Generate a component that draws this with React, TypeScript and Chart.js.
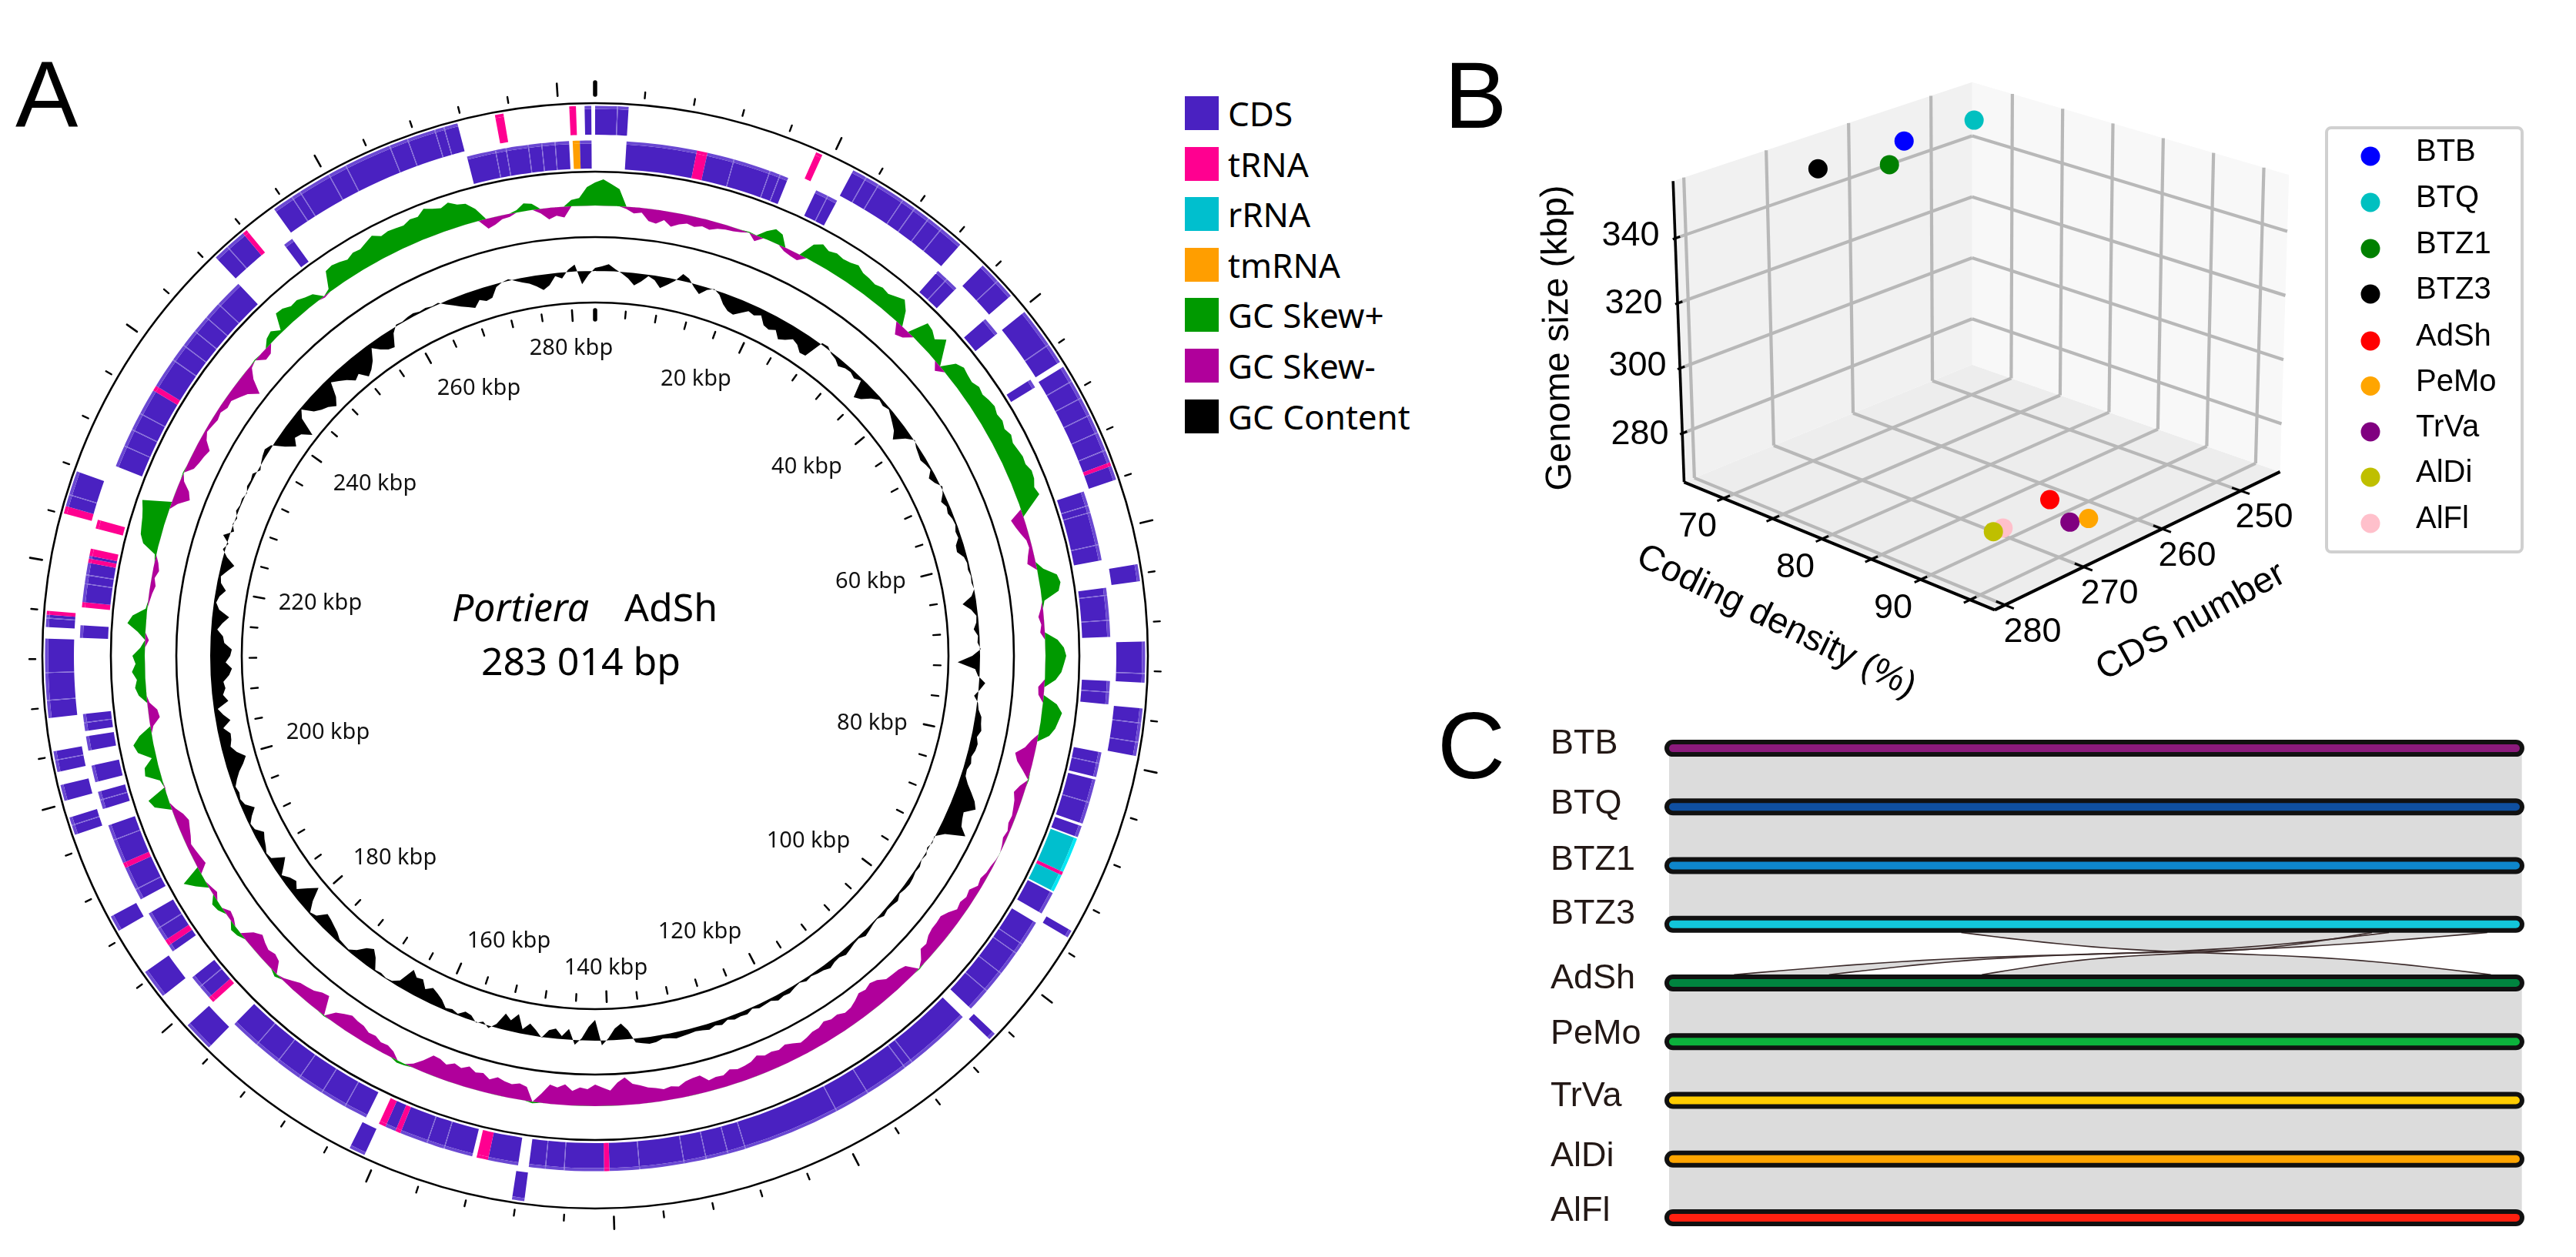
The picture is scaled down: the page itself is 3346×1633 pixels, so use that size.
import React, { useEffect, useRef } from "react";
import { Chart, registerables } from "chart.js";

Chart.register(...registerables);

/* ---------- Panel A: circular map ---------- */
const genomeKbp = 283.014;

// GC skew and GC content, one reading per degree clockwise from 0 kbp
const gcSkew = [
  30, 34, 28, 22, -3, -8, -6, -16, -18, -12,
  -19, -14, -11, -13, -10, -12, -8, -6, -5, -3,
  1, -8, 10, 17, 14, -5, -7, -8, 20, 26,
  22, 25, 23, 24, 27, 22, 21, 19, 22, 20,
  24, 28, 18, -14, -10, 26, 24, 18, 29, 14,
  -9, 18, 23, 21, 20, 24, 22, 25, 27, 24,
  26, 23, 27, 24, 26, 28, 27, 31, 30, 26,
  29, 14, -17, -14, -10, -5, -4, -8, -11, 8,
  24, 27, 23, 3, -3, -7, -4, -6, 16, 24,
  27, 24, 21, 14, -8, -7, 18, 26, 23, 20,
  14, -8, -14, -25, -20, -10, 1, -8, -13, -9,
  -7, -5, -6, -3, -5, -2, 0, -1, -3, -4,
  -7, -5, -12, -10, -13, -11, -18, -23, -22, -22,
  -20, -15, -16, -6, 1, -15, -18, -19, -20, -27,
  -30, -27, -29, -24, -20, -19, -23, -22, -25, -21,
  -21, -18, -16, -20, -23, -20, -22, -21, -25, -20,
  -18, -17, -20, -15, -16, -14, -23, -22, -20, -15,
  -17, -15, -18, -20, -24, -27, -36, -30, -20, -24,
  -28, -22, -24, -19, -27, -22, -25, -12, 2, -18,
  -21, -18, -20, -23, -18, -24, -22, -27, -22, -25,
  -20, -24, -25, -14, -5, 2, 3, -8, -12, -11,
  -15, -14, -18, -19, -21, -17, -12, 1, -24, -22,
  -17, -15, -13, -8, -3, 4, -14, -17, -14, -17,
  -21, -14, 5, 7, -5, -7, 6, 8, -6, -3,
  14, 26, -12, -10, -8, -6, -10, -13, -16, -12,
  -5, 20, 25, -1, 3, 20, 18, 6, 22, 26,
  16, -4, -14, -12, -3, 10, 14, 11, 17, 12,
  16, 6, -5, 10, 24, 18, 2, -2, -4, -7,
  -4, -8, -5, 2, 20, 26, 28, 30, 33, 37,
  -8, -21, -16, -5, 1, -10, -13, -15, -18, -8,
  -3, -5, -7, -5, -9, -8, -14, -20, -32, -14,
  -3, 1, -10, -9, 8, 11, 3, 23, 22, 17,
  18, 14, 11, -2, 4, 25, 27, 25, 22, 26,
  25, 29, 33, 27, 29, 28, 27, 31, 30, 37,
  33, 30, 34, 28, 26, 16, -13, -10, -5, -4,
  3, 10, 8, -6, -15, -11, -14, 8, 10, 24,
];
const gcContent = [
  4, 6, 9, 3, -2, -8, -16, -10, -2, -6,
  -15, -9, -2, 9, 5, -4, -11, -3, 1, -4,
  -14, -20, -22, -16, -10, -12, -8, -18, -20, -16,
  -25, -21, -15, -18, -25, -24, 2, 3, -2, -4,
  -9, -5, -4, -7, -3, -25, -20, -10, -3, -5,
  -2, -6, -10, -14, -22, -8, 1, -3, -5, -7,
  -4, -2, -9, -5, 2, -2, -8, -4, -6, -3,
  -2, -5, -4, -10, -11, -4, -2, -3, -1, -2,
  0, -5, -18, -8, -2, -3, -7, -2, -3, 1,
  -10, -29, -6, -2, 8, 2, -5, 1, 3, 8,
  9, 11, 7, 10, 9, 6, 8, 5, 6, 12,
  20, 28, 33, 20, 22, 25, 35, 10, -1, 1,
  -2, 2, 0, 3, 2, 4, 5, 4, 2, 6,
  4, 3, 5, 1, 2, 4, 6, 2, 3, 5,
  7, 4, 5, 8, 5, 4, 2, 4, 1, 3,
  6, 5, 7, 3, 4, 5, 2, 6, 5, 6,
  3, 7, 5, 8, 6, 5, 6, 7, 8, 6,
  5, 8, 9, 7, 5, -12, -21, -15, -3, 6,
  -27, -18, -3, 6, -14, -4, -13, -10, 1, -8,
  -15, -6, -24, -14, -21, -5, 3, -3, 1, -6,
  -8, -2, -5, -3, -11, -16, -20, -14, -24, -22,
  -29, -8, -2, -1, -3, -2, -15, -23, -18, -8,
  -2, -3, -4, -9, -12, -15, -17, -5, -2, -14,
  -31, -20, -8, -14, -10, -3, -12, -20, -4, -2,
  -6, -9, -13, -4, -2, -8, -16, -6, -3, -5,
  -3, -8, -14, -22, -28, -18, -12, -15, -16, -8,
  -19, -11, -5, -20, -14, -18, -16, -24, -28, -20,
  -26, -28, -18, -16, -8, -14, -22, -8, -3, -6,
  -13, -5, -3, -10, -17, -5, 3, -2, 8, -4,
  1, -2, 3, 1, 2, -1, 3, 2, 4, -3,
  1, 4, 6, 2, -14, -26, -18, -22, -34, -10,
  -2, -16, -22, -26, -33, -24, -6, -12, -18, -26,
  -22, -33, -28, -20, -6, -14, -20, -22, -6, 2,
  1, 3, 4, 2, 3, 1, 2, -4, -9, -14,
  -18, -22, -14, -18, -16, -4, 0, 2, -2, -6,
  -9, -14, -20, -15, -4, -8, 3, 9, -17, -5,
];

// Features on the map: start and end in degrees clockwise from 0 kbp. c=CDS t=tRNA r=rRNA m=tmRNA
const outerKinds = ["c","t","c","c","c","c","t","c","c","c","c","c","c","c","c","c","c","c","c","c","c","c","c","t","t","c","c","t","c","t","t","c"];
const outerStart = [0, 23.7, 28, 44.8, 51.3, 58.3, 69.4, 69.8, 80.4, 88.5, 95.5, 120, 133.4, 187.4, 204.8, 224.6, 231.8, 240, 251, 254.7, 257.8, 263.5, 273, 274.3, 285, 285.8, 316.4, 320.2, 324.3, 349.5, 357.3, 358.9];
const outerEnd = [3.5, 24.4, 41.6, 49.1, 57.7, 69.4, 69.8, 71.3, 82.2, 92.8, 100.5, 120.8, 134.2, 188.7, 206.5, 227.8, 234.9, 241.7, 252.9, 256.4, 260, 271.8, 274.3, 274.7, 285.8, 289.6, 320.2, 320.7, 345.5, 350.4, 358, 359.6];
const outerJoins = [2.3, 29.5, 31, 34, 35.5, 37.3, 39, 47, 55.5, 60, 62, 64, 66, 68, 91.8, 97, 99, 252, 259, 265.3, 268.2, 273.9, 287, 318, 326.5, 327.5, 331, 333, 338, 340, 343, 344];

const innerSpans = [
  [3.5, 11.4], [11.4, 12.6], [12.6, 22], [25.4, 28], [41.7, 44.5], [49.2, 51.3], [57.6, 58.6], [71.4, 79.3], [82.4, 87.9], [92.8, 95.4],
  [100.8, 103.6], [103.9, 109], [109.3, 110.6], [110.8, 114.8], [114.8, 115.2], [115.2, 117.2], [117.4, 120], [121.2, 133.2], [134.5, 178.4], [178.4, 179],
  [179, 187.4], [188.6, 192], [192, 193.3], [193.8, 202.2], [202.2, 202.8], [202.8, 204], [204, 204.8], [206.4, 224.4], [227.8, 228.5], [228.5, 231.4],
  [235, 235.8], [235.8, 236.5], [236.5, 240], [241.8, 245.7], [245.7, 246.3], [246.3, 250.8], [252.7, 254.7], [255.8, 257.7], [259.4, 261], [261.6, 263.5],
  [272, 273.4], [275.4, 276], [276, 280.4], [280.4, 280.9], [280.9, 281.2], [281.2, 282], [284.3, 285.3], [291.6, 301], [301, 301.6], [301.6, 316.2],
  [322.9, 324], [345.6, 357.1], [357.5, 358.3], [358.3, 359.6],
];
const innerKinds = ["c","t","c","c","c","c","c","c","c","c","c","c","c","r","t","r","c","c","c","t","c","c","t","c","t","c","t","c","t","c","c","t","c","c","t","c","c","c","c","c","c","t","c","t","c","t","t","c","t","c","c","c","m","c"];
const innerJoins = [15.6, 19.8, 21, 26.8, 43, 73, 73.8, 77.5, 83.2, 86, 94, 102, 106.5, 124, 125.2, 128, 130.5, 142, 143, 148, 152, 163, 165, 167.5, 170, 175, 183.4, 185.5, 197, 199, 209, 212, 215, 218, 221, 230, 238, 243, 249, 253.7, 262.5, 278, 279, 294, 296, 298, 305, 307, 309, 311, 313, 348.8, 350, 352.5, 354, 355.5];

const ringRadii = [459, 544, 629, 718];
const kbpLabels = [280, 260, 240, 220, 200, 180, 160, 140, 120, 100, 80, 60, 40, 20];
const kbpLabelCentres = [[742, 453], [622, 505], [487, 629], [416, 784], [426, 952], [513, 1115], [661, 1223], [787, 1258], [909, 1211], [1050, 1093], [1133, 940], [1131, 756], [1048, 607], [904, 493]];

const mapLegendNames = ["CDS", "tRNA", "rRNA", "tmRNA", "GC Skew+", "GC Skew-", "GC Content"];
const mapLegendColours = ["#4a21c1", "#ff0090", "#00bfce", "#ff9e00", "#009a00", "#b0009b", "#000000"];

const MAIN: Record<string, string> = { c: "#4a21c1", t: "#ff0090", r: "#00bfce", m: "#ff9e00" };
const BAND: Record<string, string> = { c: "#6a48d2", t: "#ff0090", r: "#00e8f5", m: "#ff9e00" };
const JOIN = "#7f66d8";
const CLEAR = "rgba(0,0,0,0)";

function buildRing(spans: number[][], kinds: string[], joins: number[]) {
  const values: number[] = [];
  const main: string[] = [];
  const band: string[] = [];
  const push = (v: number, a: string, b: string) => {
    if (v > 0) {
      values.push(v);
      main.push(a);
      band.push(b);
    }
  };
  let at = 0;
  spans.forEach(([s, e], i) => {
    push(s - at, CLEAR, CLEAR);
    const k = kinds[i];
    let p = s;
    if (k === "c") {
      joins.filter((j) => j > s && j < e).forEach((j) => {
        push(j - p, MAIN[k], BAND[k]);
        push(0.09, JOIN, JOIN);
        p = j + 0.09;
      });
    }
    push(e - p, MAIN[k], BAND[k]);
    at = e;
  });
  push(360 - at, CLEAR, CLEAR);
  return { values, main, band };
}

/* ---------- Panel B: 3D scatter ---------- */
const genomes3d = ["BTB", "BTQ", "BTZ1", "BTZ3", "AdSh", "PeMo", "TrVa", "AlDi", "AlFl"];
const cdsNumber = [260, 252.1, 265.1, 270.1, 270.8, 270.4, 272, 277.8, 276.7];
const codingDensity = [71.5, 72, 74.2, 71.2, 94.7, 98.3, 97.7, 94.6, 94.7];
const genomeSize = [357.6, 357.6, 357.6, 357.6, 283, 281, 281, 281, 281];
const pointColours = ["#0000ff", "#00c0c0", "#008000", "#000000", "#ff0000", "#ffa500", "#800080", "#bfbf00", "#ffc0cb"];
const cdsTicks = [250, 260, 270, 280];
const densityGrid = [70, 75, 80, 85, 90, 95];
const densityLabels = [70, 80, 90];
const sizeTicks = [280, 300, 320, 340];

const C_MIN = 245, C_MAX = 281.3, D_MIN = 66, D_MAX = 97.5, S_MIN = 265, S_MAX = 357.6;
const BOX = {
  back: [[2561.6, 473.7], [2561.6, 106.8]],
  left: [[2187.5, 626.3], [2173.2, 235.3]],
  right: [[2961.6, 612.9], [2973.2, 227.3]],
  front: [[2591, 792.4], [2588.4, 388]],
};
function project(c: number, d: number, s: number) {
  const u = (c - C_MIN) / (C_MAX - C_MIN);
  const v = (d - D_MIN) / (D_MAX - D_MIN);
  const t = (s - S_MIN) / (S_MAX - S_MIN);
  const at = (corner: number[][], k: number) => corner[0][k] + (corner[1][k] - corner[0][k]) * t;
  const mix = (k: number) =>
    (1 - u) * (1 - v) * at(BOX.back, k) + u * (1 - v) * at(BOX.left, k) + (1 - u) * v * at(BOX.right, k) + u * v * at(BOX.front, k);
  return { x: mix(0), y: mix(1) };
}

/* ---------- Panel C: synteny ---------- */
const syntenyNames = ["BTB", "BTQ", "BTZ1", "BTZ3", "AdSh", "PeMo", "TrVa", "AlDi", "AlFl"];
const syntenyColours = ["#8b1a7c", "#0f4fa0", "#0e86cc", "#12c6da", "#00843f", "#0cb23c", "#ffcc00", "#ffa500", "#ff2010"];
const syntenyLabelNudge = [-6, -4, -6.5, -13.5, -5, -10, -4.6, -3, -8];
const ribbonTopKb = [[96.8, 234.7], [240.4, 273.4]];
const ribbonBottomKb = [[274.6, 103.7], [52.4, 20.5]];
const plainBandKb = [-1.3, 285];
const genomeEndKb = 283;

function sCurve(x0: number, x1: number, y0: number, y1: number) {
  const pts: { x: number; y: number }[] = [];
  for (let i = 0; i <= 32; i++) {
    const t = i / 32;
    pts.push({ x: x0 + (x1 - x0) * t, y: y0 + (y1 - y0) * (t + 0.09 * Math.sin(2 * Math.PI * t)) });
  }
  return pts;
}

const line = (data: any[], color: string, width: number, order: number, extra: any = {}) => ({
  type: "scatter",
  data,
  showLine: true,
  borderColor: color,
  borderWidth: width,
  pointRadius: 0,
  tension: 0,
  order,
  ...extra,
});

const base = {
  responsive: false,
  animation: false as const,
  devicePixelRatio: 1,
  events: [] as any[],
  layout: { padding: 0, autoPadding: false },
};

const fixed = (left: number, top: number, width: number, height: number): React.CSSProperties => ({
  position: "absolute",
  left,
  top,
  width,
  height,
  display: "block",
});

export default function App() {
  const ringsRef = useRef<HTMLCanvasElement>(null);
  const trackRef = useRef<HTMLCanvasElement>(null);
  const cubeRef = useRef<HTMLCanvasElement>(null);
  const syntenyRef = useRef<HTMLCanvasElement>(null);

  useEffect(() => {
    const charts: Chart[] = [];
    const outerSpans = outerStart.map((s, i) => [s, outerEnd[i]]);
    const outer = buildRing(outerSpans, outerKinds, outerJoins);
    const inner = buildRing(innerSpans, innerKinds, innerJoins);
    const ring = (d: number[], c: string[], weight: number) => ({ data: d, backgroundColor: c, borderWidth: 0, weight });

    charts.push(
      new Chart(ringsRef.current!, {
        type: "doughnut",
        data: {
          labels: [],
          datasets: [
            ring(outer.values, outer.band, 4),
            ring(outer.values, outer.main, 33.5),
            ring([1], [CLEAR], 7.4),
            ring(inner.values, inner.band, 4),
            ring(inner.values, inner.main, 32.6),
          ] as any,
        },
        options: {
          ...base,
          radius: 714.5,
          cutout: (633 / 714.5) * 100 + "%",
          plugins: { legend: { display: false }, tooltip: { enabled: false } },
        } as any,
      })
    );

    const kbpAngle = (k: number) => (k / genomeKbp) * Math.PI * 2;
    const mapMarks = {
      id: "mapMarks",
      afterDraw(chart: any) {
        const { ctx } = chart;
        const r = chart.scales.r;
        const seg = (a: number, r0: number, r1: number, w: number) => {
          const d0 = r.getDistanceFromCenterForValue(r0);
          const d1 = r.getDistanceFromCenterForValue(r1);
          ctx.lineWidth = w;
          ctx.beginPath();
          ctx.moveTo(r.xCenter + Math.sin(a) * d0, r.yCenter - Math.cos(a) * d0);
          ctx.lineTo(r.xCenter + Math.sin(a) * d1, r.yCenter - Math.cos(a) * d1);
          ctx.stroke();
        };
        ctx.save();
        ctx.strokeStyle = "#000";
        ctx.lineCap = "round";
        for (let k = 0; k < genomeKbp; k += 4) {
          const a = kbpAngle(k);
          const major = k % 20 === 0;
          if (k === 0) {
            seg(a, 729, 745, 5.5);
            seg(a, 437, 449, 5.5);
          } else if (major) {
            seg(a, 729, 745, 2.6);
            seg(a, 436, 450, 2.6);
          } else {
            seg(a, 727, 735, 2.4);
            seg(a, 440, 449, 2.4);
          }
        }
        ctx.fillStyle = "#111";
        ctx.textBaseline = "middle";
        ctx.textAlign = "center";
        ctx.font = '29px "Noto Sans"';
        const ox = r.xCenter - 773;
        const oy = r.yCenter - 852;
        kbpLabels.forEach((k, i) => {
          ctx.fillText(`${k} kbp`, kbpLabelCentres[i][0] + ox, kbpLabelCentres[i][1] + oy);
        });
        ctx.textAlign = "left";
        ctx.textBaseline = "alphabetic";
        ctx.fillStyle = "#000";
        ctx.font = 'italic 50px "Noto Sans"';
        ctx.fillText("Portiera", 587 + ox, 807 + oy);
        ctx.font = '50px "Noto Sans"';
        ctx.fillText("AdSh", 811 + ox, 807 + oy);
        ctx.fillText("283 014 bp", 625 + ox, 877 + oy);
        ctx.restore();
      },
    };

    const track = (data: number[], color: string, level: number) => ({
      data,
      backgroundColor: color,
      borderColor: color,
      borderWidth: 0,
      pointRadius: 0,
      tension: 0,
      fill: { value: level },
    });
    const skewBase = 585;
    const contentBase = 500;
    charts.push(
      new Chart(trackRef.current!, {
        type: "radar",
        data: {
          labels: gcSkew.map((_, i) => ((i * genomeKbp) / gcSkew.length).toFixed(1)),
          datasets: [
            track(gcSkew.map((v) => skewBase + Math.max(v, 0)), "#009a00", skewBase),
            track(gcSkew.map((v) => skewBase + Math.min(v, 0)), "#b0009b", skewBase),
            track(gcContent.map((v) => contentBase + v), "#000000", contentBase),
          ] as any,
        },
        options: {
          ...base,
          plugins: { legend: { display: false }, tooltip: { enabled: false } },
          scales: {
            r: {
              min: 0,
              max: 750,
              afterBuildTicks: (s: any) => {
                s.ticks = [0, ...ringRadii].map((value) => ({ value }));
              },
              ticks: { display: false },
              pointLabels: { display: false },
              angleLines: { display: false },
              grid: { circular: true, color: "#000", lineWidth: 2.6 },
              border: { display: false },
            },
          },
        } as any,
        plugins: [mapMarks],
      })
    );

    /* Panel B */
    const pane = (corners: { x: number; y: number }[], color: string) =>
      line(corners, "rgba(0,0,0,0)", 0, 9, { backgroundColor: color, fill: "shape" });
    const gridColour = "#b8b8b8";
    const gridW = 4.2;
    const cubeSets: any[] = [];
    genomes3d.forEach((g, i) => {
      cubeSets.push({
        type: "scatter",
        label: g,
        data: [project(cdsNumber[i], codingDensity[i], genomeSize[i])],
        backgroundColor: pointColours[i],
        borderWidth: 0,
        pointRadius: 12.5,
        order: 0,
      });
    });
    cubeSets.push(pane([project(C_MIN, D_MIN, S_MIN), project(C_MAX, D_MIN, S_MIN), project(C_MAX, D_MIN, S_MAX), project(C_MIN, D_MIN, S_MAX)], "#f1f1f1"));
    cubeSets.push(pane([project(C_MIN, D_MIN, S_MIN), project(C_MIN, D_MAX, S_MIN), project(C_MIN, D_MAX, S_MAX), project(C_MIN, D_MIN, S_MAX)], "#f8f8f8"));
    cubeSets.push(pane([project(C_MIN, D_MIN, S_MIN), project(C_MAX, D_MIN, S_MIN), project(C_MAX, D_MAX, S_MIN), project(C_MIN, D_MAX, S_MIN)], "#ededed"));
    cdsTicks.forEach((c) => {
      cubeSets.push(line([project(c, D_MIN, S_MIN), project(c, D_MAX, S_MIN)], gridColour, gridW, 5));
      cubeSets.push(line([project(c, D_MIN, S_MIN), project(c, D_MIN, S_MAX)], gridColour, gridW, 5));
      cubeSets.push(line([project(c, D_MAX - 0.9, S_MIN), project(c, D_MAX + 0.9, S_MIN)], "#000", 3, 3));
    });
    densityGrid.forEach((d) => {
      cubeSets.push(line([project(C_MIN, d, S_MIN), project(C_MAX, d, S_MIN)], gridColour, gridW, 5));
      cubeSets.push(line([project(C_MIN, d, S_MIN), project(C_MIN, d, S_MAX)], gridColour, gridW, 5));
      cubeSets.push(line([project(C_MAX - 0.8, d, S_MIN), project(C_MAX + 0.8, d, S_MIN)], "#000", 3, 3));
    });
    sizeTicks.forEach((s) => {
      cubeSets.push(line([project(C_MAX, D_MIN, s), project(C_MIN, D_MIN, s)], gridColour, gridW, 5));
      cubeSets.push(line([project(C_MIN, D_MIN, s), project(C_MIN, D_MAX, s)], gridColour, gridW, 5));
      cubeSets.push(line([project(C_MAX - 0.6, D_MIN, s), project(C_MAX + 0.3, D_MIN, s)], "#000", 3, 3));
    });
    cubeSets.push(line([project(C_MAX, D_MIN, S_MIN), project(C_MAX, D_MIN, S_MAX)], "#000", 3.6, 2));
    cubeSets.push(line([project(C_MAX, D_MIN, S_MIN), project(C_MAX, D_MAX, S_MIN)], "#000", 4, 2));
    cubeSets.push(line([project(C_MAX, D_MAX, S_MIN), project(C_MIN, D_MAX, S_MIN)], "#000", 4, 2));

    const cubeText = {
      id: "cubeText",
      afterDraw(chart: any) {
        const { ctx } = chart;
        const X = (v: number) => chart.scales.x.getPixelForValue(v);
        const Y = (v: number) => chart.scales.y.getPixelForValue(v);
        const rot = (t: string, x: number, y: number, deg: number, font: string) => {
          ctx.save();
          ctx.translate(X(x), Y(y));
          ctx.rotate((deg * Math.PI) / 180);
          ctx.font = font;
          ctx.fillText(t, 0, 0);
          ctx.restore();
        };
        ctx.save();
        ctx.fillStyle = "#000";
        ctx.textAlign = "center";
        ctx.textBaseline = "middle";
        const tickFont = '45px "Liberation Sans"';
        const sizePos = [[2130, 565], [2127, 476], [2122, 395], [2118, 307]];
        sizeTicks.forEach((s, i) => rot(String(s), sizePos[i][0], sizePos[i][1], 0, tickFont));
        const densPos = [[2205, 685], [2332, 738], [2459, 791]];
        densityLabels.forEach((d, i) => rot(String(d), densPos[i][0], densPos[i][1], 0, tickFont));
        const cdsPos = [[2941, 673], [2841, 723], [2740, 772], [2640, 822]];
        cdsTicks.forEach((c, i) => rot(String(c), cdsPos[i][0], cdsPos[i][1], 0, tickFont));
        const axisFont = '47px "Liberation Sans"';
        rot("Genome size (kbp)", 2024, 439, -91, axisFont);
        rot("Coding density (%)", 2307, 808, 26, axisFont);
        rot("CDS number", 2846, 808, -28.7, axisFont);

        // legend box
        ctx.strokeStyle = "#d0d0d0";
        ctx.lineWidth = 4;
        ctx.fillStyle = "#fff";
        ctx.beginPath();
        ctx.roundRect(X(3022), Y(166), X(3276) - X(3022), Y(717) - Y(166), 6);
        ctx.fill();
        ctx.stroke();
        const rows = [203, 263, 323, 382, 443, 501.5, 561, 620, 680];
        ctx.textAlign = "left";
        ctx.font = '40px "Liberation Sans"';
        genomes3d.forEach((g, i) => {
          ctx.fillStyle = pointColours[i];
          ctx.beginPath();
          ctx.arc(X(3079), Y(rows[i]), 12.5, 0, Math.PI * 2);
          ctx.fill();
          ctx.fillStyle = "#000";
          ctx.fillText(g, X(3138), Y(rows[i] - 5));
        });
        ctx.restore();
      },
    };
    charts.push(
      new Chart(cubeRef.current!, {
        type: "scatter",
        data: { datasets: cubeSets },
        options: {
          ...base,
          plugins: { legend: { display: false }, tooltip: { enabled: false } },
          scales: {
            x: { type: "linear", display: false, min: 1890, max: 3310 },
            y: { type: "linear", display: false, min: 90, max: 940, reverse: true },
          },
        } as any,
        plugins: [cubeText],
      })
    );

    /* Panel C */
    const synSets: any[] = [];
    syntenyNames.forEach((_, i) => {
      synSets.push(line([{ x: 0, y: i }, { x: genomeEndKb, y: i }], syntenyColours[i], 10, 1, { borderCapStyle: "round" }));
      synSets.push(line([{ x: 0, y: i }, { x: genomeEndKb, y: i }], "#111", 22, 2, { borderCapStyle: "round" }));
      if (i < syntenyNames.length - 1 && i !== 3) {
        synSets.push(
          line(
            [
              { x: plainBandKb[0], y: i },
              { x: plainBandKb[1], y: i },
              { x: plainBandKb[1], y: i + 1 },
              { x: plainBandKb[0], y: i + 1 },
            ],
            "rgba(0,0,0,0)",
            0,
            5,
            { backgroundColor: "#dcdcdc", fill: "shape" }
          )
        );
      }
    });
    ribbonTopKb.forEach((top, k) => {
      const bottom = ribbonBottomKb[k];
      const a = sCurve(top[0], bottom[0], 3.14, 3.86);
      const b = sCurve(top[1], bottom[1], 3.14, 3.86);
      synSets.push(line([...a, ...[...b].reverse()], "rgba(0,0,0,0)", 0, 5, { backgroundColor: "#dcdcdc", fill: "shape" }));
      synSets.push(line(a, "#3b2a2a", 1.6, 4));
      synSets.push(line(b, "#3b2a2a", 1.6, 4));
    });
    const synText = {
      id: "synText",
      afterDraw(chart: any) {
        const { ctx } = chart;
        ctx.save();
        ctx.fillStyle = "#231815";
        ctx.font = '45px "Liberation Sans"';
        ctx.textBaseline = "middle";
        ctx.textAlign = "left";
        syntenyNames.forEach((n, i) => {
          ctx.fillText(n, 14, chart.scales.y.getPixelForValue(i) + syntenyLabelNudge[i]);
        });
        ctx.restore();
      },
    };
    charts.push(
      new Chart(syntenyRef.current!, {
        type: "scatter",
        data: { datasets: synSets },
        options: {
          ...base,
          plugins: { legend: { display: false }, tooltip: { enabled: false } },
          scales: {
            x: { type: "linear", display: false, min: (2000 - 2173) / 3.869, max: (3300 - 2173) / 3.869 },
            y: { type: "linear", display: false, min: -0.5, max: 8.5, reverse: true },
          },
        } as any,
        plugins: [synText],
      })
    );

    return () => charts.forEach((c) => c.destroy());
  }, []);

  const letter = (t: string, left: number, top: number) => (
    <div style={{ position: "absolute", left, top, font: '122px/1 "Liberation Sans"', color: "#000" }}>{t}</div>
  );
  const legendTops = [125, 191, 256, 322, 387, 453, 519];
  return (
    <div style={{ position: "fixed", left: 0, top: 0, width: 3346, height: 1633, background: "#fff", overflow: "hidden" }}>
      <canvas ref={ringsRef} width={1500} height={1500} style={fixed(23, 102, 1500, 1500)} />
      <canvas ref={trackRef} width={1500} height={1500} style={fixed(23, 102, 1500, 1500)} />
      <canvas ref={cubeRef} width={1420} height={850} style={fixed(1890, 90, 1420, 850)} />
      <canvas ref={syntenyRef} width={1300} height={686} style={fixed(2000, 933.9, 1300, 686)} />
      {letter("A", 20, 62)}
      {letter("B", 1876, 63)}
      {letter("C", 1867, 908)}
      {mapLegendNames.map((n, i) => (
        <React.Fragment key={n}>
          <div style={{ position: "absolute", left: 1539, top: legendTops[i], width: 44, height: 44, background: mapLegendColours[i] }} />
          <div style={{ position: "absolute", left: 1595, top: legendTops[i] - 8, font: '44px/60px "Noto Sans"', color: "#000", whiteSpace: "nowrap" }}>{n}</div>
        </React.Fragment>
      ))}
    </div>
  );
}
